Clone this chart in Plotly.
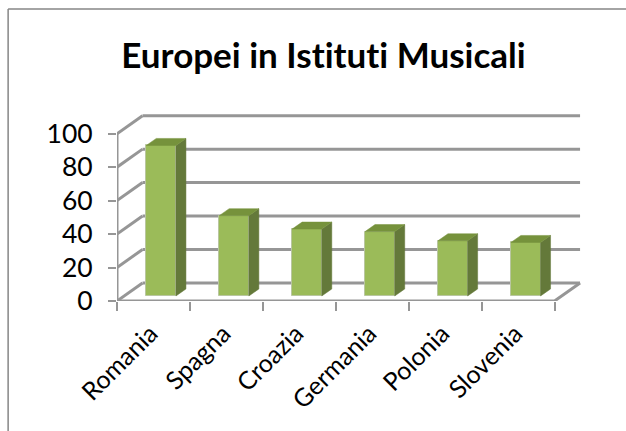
import plotly.graph_objects as go

categories = ["Romania", "Spagna", "Croazia", "Germania", "Polonia", "Slovenia"]
values = [90, 48, 40, 38.5, 33, 32]
y_ticks = [0, 20, 40, 60, 80, 100]
title = "Europei in Istituti Musicali"

GRAY = "#969696"
FRONT = "#9BBB59"
SIDE = "#64793A"
TOP = "#76923C"
FONT = "Lato, Carlito, Open Sans, sans-serif"

n = len(categories)
wall_dx, wall_dy = 0.35, 10.8      # depth of the chart box, in data units
bar_dx, bar_dy = 0.137, 4.2        # depth of each bar
bar_w, bar_shift, bar_base = 0.407, 0.105, 3.0

centers = [i + 0.5 for i in range(n)]
bar_x = [c + bar_shift for c in centers]

fig = go.Figure()

fig.add_trace(go.Bar(
    x=bar_x, y=values, base=[bar_base] * n, width=[bar_w] * n,
    marker=dict(color=FRONT, line=dict(color="#b9c6a0", width=1)),
    showlegend=False, hoverinfo="skip",
))

for x, v in zip(bar_x, values):
    left, right = x - bar_w / 2, x + bar_w / 2
    low, high = bar_base, bar_base + v
    fig.add_trace(go.Scatter(
        x=[right, right + bar_dx, right + bar_dx, right, right],
        y=[low, low + bar_dy, high + bar_dy, high, low],
        mode="lines", fill="toself", fillcolor=SIDE,
        line=dict(color=SIDE, width=0.5), showlegend=False, hoverinfo="skip",
    ))
    fig.add_trace(go.Scatter(
        x=[left, right, right + bar_dx, left + bar_dx, left],
        y=[high, high, high + bar_dy, high + bar_dy, high],
        mode="lines", fill="toself", fillcolor=TOP,
        line=dict(color=TOP, width=0.5), showlegend=False, hoverinfo="skip",
    ))

# front floor edge, left axis line and floor right edge
fig.add_trace(go.Scatter(
    x=[0, 0, n, n + wall_dx], y=[y_ticks[-1], 0, 0, wall_dy],
    mode="lines", line=dict(color=GRAY, width=3), cliponaxis=False,
    showlegend=False, hoverinfo="skip",
))

shapes = []
line = dict(color=GRAY, width=3)
for v in y_ticks:
    shapes.append(dict(type="line", xref="x", yref="y", layer="below",
                       x0=wall_dx, x1=n + wall_dx, y0=v + wall_dy, y1=v + wall_dy, line=line))
    shapes.append(dict(type="line", xref="x", yref="y", layer="below",
                       x0=0, x1=wall_dx, y0=v, y1=v + wall_dy, line=line))
# outer picture frame: top and left edges
frame = dict(color="#868686", width=1.5)
shapes.append(dict(type="line", xref="paper", yref="paper", x0=-0.2297, x1=1.08, y0=1.5456, y1=1.5456, line=frame))
shapes.append(dict(type="line", xref="paper", yref="paper", x0=-0.2297, x1=-0.2297, y0=1.5456, y1=-0.7, line=frame))

fig.update_layout(
    width=626, height=431,
    margin=dict(l=116.5, r=35, t=112.3, b=130.3, autoexpand=False),
    paper_bgcolor="white", plot_bgcolor="white",
    shapes=shapes, showlegend=False, bargap=0,
    font=dict(family=FONT, color="black"),
    title=dict(text=title, x=323.5 / 626, xanchor="center", y=1 - 56 / 431, yanchor="middle",
               font=dict(family=FONT, size=35, weight="bold", color="black")),
    xaxis=dict(range=[0, 6.5], tickmode="array", tickvals=centers, ticktext=categories,
               tickangle=-45, ticks="", showgrid=False, zeroline=False, showline=False,
               tickfont=dict(size=25), ticklabelstandoff=12, ticklabelshift=-3,
               minor=dict(tickmode="array", tickvals=list(range(n + 1)), ticks="outside",
                          ticklen=9, tickwidth=1.5, tickcolor=GRAY, showgrid=False)),
    yaxis=dict(range=[0, 113], tickmode="array", tickvals=y_ticks, ticks="outside",
               ticklen=8, tickwidth=2, tickcolor=GRAY, showgrid=False, zeroline=False,
               showline=False, tickfont=dict(size=26.5), ticklabelstandoff=10),
)

page_css = ("document.body.style.margin='0';"
            "document.head.insertAdjacentHTML('beforeend','<style>text{font-variant-ligatures:none!important}</style>');"
            "window.dispatchEvent(new Event('resize'));")
fig.write_html("out.html", post_script=page_css, config={"displayModeBar": False})
